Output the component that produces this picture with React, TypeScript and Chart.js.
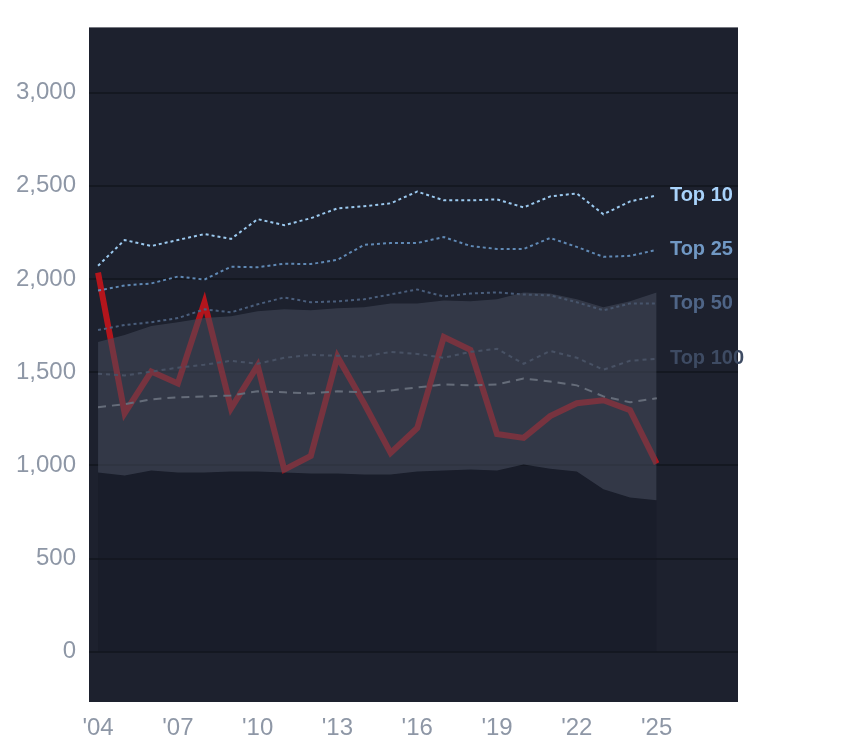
import React, { useEffect, useRef } from "react";
import { Chart, registerables } from "chart.js";
Chart.register(...registerables);

const years = [2004,2005,2006,2007,2008,2009,2010,2011,2012,2013,2014,2015,2016,2017,2018,2019,2020,2021,2022,2023,2024,2025];
const actual = [2034,1280,1503,1439,1875,1306,1535,977,1051,1583,1333,1067,1200,1689,1620,1168,1147,1264,1333,1349,1296,1009];
const top10 = [2071,2209,2177,2209,2241,2215,2321,2289,2326,2379,2390,2406,2469,2422,2422,2427,2384,2443,2459,2347,2416,2448];
const top25 = [1938,1965,1976,2013,1997,2066,2063,2082,2080,2103,2183,2193,2193,2225,2177,2161,2161,2220,2172,2119,2124,2156];
const top50 = [1726,1753,1768,1790,1837,1821,1864,1901,1875,1880,1891,1917,1944,1906,1922,1928,1917,1912,1875,1832,1869,1869];
const top100 = [1492,1482,1503,1524,1540,1561,1545,1577,1593,1588,1583,1609,1598,1577,1609,1625,1545,1614,1577,1513,1561,1572];
const median = [1312,1328,1354,1365,1370,1375,1397,1392,1386,1397,1392,1402,1418,1434,1429,1434,1466,1450,1429,1370,1338,1360];
const bandHigh = [1662,1699,1747,1768,1790,1800,1827,1837,1832,1843,1848,1869,1869,1885,1880,1891,1928,1922,1891,1848,1880,1928];
const bandLow = [961,945,972,961,961,967,967,961,956,956,951,951,967,972,977,972,1004,982,967,871,828,812];
const labels = [
  { text: "Top 10", color: "#a9d3fb", data: top10 },
  { text: "Top 25", color: "#7098c4", data: top25 },
  { text: "Top 50", color: "#4f6587", data: top50 },
  { text: "Top 100", color: "#3e4b63", data: top100 },
];
const xTicks = [2004,2007,2010,2013,2016,2019,2022,2025];
const yTicks = [0,500,1000,1500,2000,2500,3000];

const pts = (arr: number[]) => arr.map((v, i) => ({ x: years[i], y: v }));

export default function App() {
  const ref = useRef<HTMLCanvasElement>(null);
  useEffect(() => {
    const bg = {
      id: "bg",
      beforeDraw(c: any) {
        const { ctx, chartArea: a } = c;
        ctx.save();
        ctx.fillStyle = "#1d212e";
        ctx.fillRect(a.left, a.top, a.right - a.left, a.bottom - a.top);
        ctx.restore();
      },
    };
    const lab = {
      id: "lab",
      afterDatasetsDraw(c: any) {
        const { ctx, scales } = c;
        ctx.save();
        ctx.font = "bold 20px 'Liberation Sans', Arial, sans-serif";
        ctx.textBaseline = "middle";
        labels.forEach((l) => {
          ctx.fillStyle = l.color;
          ctx.fillText(l.text, scales.x.getPixelForValue(2025.5), scales.y.getPixelForValue(l.data[l.data.length - 1]));
        });
        ctx.restore();
      },
    };
    const ch = new Chart(ref.current!, {
      type: "line",
      data: {
        datasets: [
          { data: pts(bandLow), borderWidth: 0, pointRadius: 0, fill: false, backgroundColor: "transparent" },
          { data: pts(bandHigh), borderWidth: 0, pointRadius: 0, fill: "-1", backgroundColor: "rgba(70,76,92,0.55)" },
          { data: pts(bandLow), borderWidth: 0, pointRadius: 0, fill: "origin", backgroundColor: "rgba(20,24,33,0.35)" },
          { data: pts(top10), borderColor: "#9ccaf0", borderWidth: 2, borderDash: [3, 3], pointRadius: 0, fill: false },
          { data: pts(top25), borderColor: "#6089b5", borderWidth: 2, borderDash: [3, 3], pointRadius: 0, fill: false },
          { data: pts(top50), borderColor: "#4a5e7c", borderWidth: 2, borderDash: [3, 3], pointRadius: 0, fill: false },
          { data: pts(top100), borderColor: "#4d586e", borderWidth: 2, borderDash: [4, 4], pointRadius: 0, fill: false },
          { data: pts(median), borderColor: "#8d929c", borderWidth: 2, borderDash: [8, 6], pointRadius: 0, fill: false },
          { data: pts(actual), borderColor: "#b3151c", borderWidth: 6, pointRadius: 0, fill: false },
        ],
      },
      options: {
        animation: false,
        responsive: false,
        layout: { padding: { top: 20, right: 106, left: 0, bottom: 0 } },
        plugins: { legend: { display: false }, tooltip: { enabled: false } },
        scales: {
          x: {
            type: "linear",
            min: 2003.66,
            max: 2028.06,
            afterBuildTicks: (s: any) => { s.ticks = xTicks.map((v) => ({ value: v })); },
            afterFit: (s: any) => { s.height = 46; },
            grid: { display: false },
            border: { display: false },
            ticks: {
              color: "#8e97a6",
              font: { size: 24, family: "'Liberation Sans', Arial, sans-serif" },
              padding: 4,
              callback: (v: any) => "'" + String(v).slice(2),
              maxRotation: 0,
            },
          },
          y: {
            min: -270,
            max: 3350,
            afterBuildTicks: (s: any) => { s.ticks = yTicks.map((v) => ({ value: v })); },
            afterFit: (s: any) => { s.width = 89; },
            grid: { color: "#141821", lineWidth: 2, drawTicks: false },
            border: { display: false },
            ticks: {
              color: "#8e97a6",
              font: { size: 24, family: "'Liberation Sans', Arial, sans-serif" },
              padding: 13,
            },
          },
        },
      } as any,
      plugins: [bg, lab],
    });
    return () => ch.destroy();
  }, []);
  return (
    <div style={{ position: "fixed", left: 0, top: 0, width: 844, height: 748, background: "#fff" }}>
      <canvas ref={ref} width={844} height={748} style={{ width: 844, height: 748 }} />
    </div>
  );
}
